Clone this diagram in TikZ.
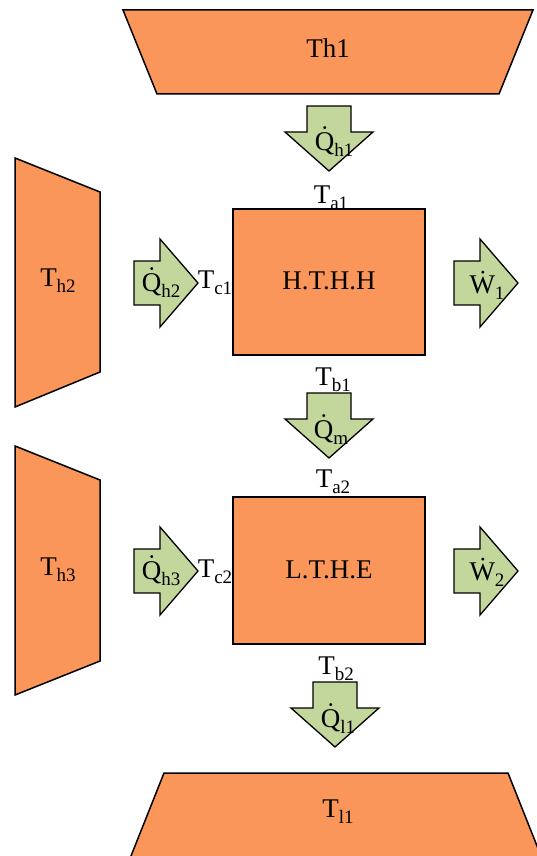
\documentclass[tikz,border=0pt]{standalone}
\usepackage{fontspec}
\setmainfont{Liberation Serif}
\definecolor{boxorange}{RGB}{250,150,90}
\definecolor{arrgreen}{RGB}{195,214,155}
\newcommand\sbs[1]{\raisebox{-6pt}{\fontsize{19}{19}\selectfont #1}}
\newcommand\qdot{\.{Q}}
\newcommand\wdot{\.{W}}
\tikzset{
  orangebox/.style={draw=black, fill=boxorange, line width=1.5pt, line join=miter},
  greenarrow/.style={draw=black, fill=arrgreen, line width=1.3pt, line join=miter},
  lbl/.style={inner sep=0pt, anchor=base, font=\fontsize{27}{31}\selectfont},
  pics/downarrow/.style={code={
    \path[greenarrow] (-22,0) -- (22,0) -- (22,26) -- (44,26) -- (0,65) -- (-44,26) -- (-22,26) -- cycle;}},
  pics/rightarrow/.style={code={
    \path[greenarrow] (0,-22) -- (26,-22) -- (26,-44) -- (64,0) -- (26,44) -- (26,22) -- (0,22) -- cycle;}}
}
\begin{document}
\begin{tikzpicture}[x=1pt, y=-1pt]
\useasboundingbox (0,0) rectangle (537,856);
% reservoirs
\path[orangebox] (123,10) -- (533,10) -- (499,94) -- (157,94) -- cycle;
\node[lbl] (th1) at (328,58) {Th1};
\path[orangebox] (15,158) -- (100,192) -- (100,372) -- (15,407) -- cycle;
\node[lbl] (th2) at (58,286) {T\sbs{h2}};
\path[orangebox] (15,446) -- (100,480) -- (100,661) -- (15,695) -- cycle;
\node[lbl] (th3) at (58,575) {T\sbs{h3}};
\begin{scope}
\clip (0,0) rectangle (537,856);
\path[orangebox] (164,773) -- (508,773) -- (545,866) -- (127,866) -- cycle;
\end{scope}
\node[lbl] (tl1) at (338,817) {T\sbs{l1}};
% engines
\node[orangebox, minimum width=192pt, minimum height=146pt, inner sep=0pt] (hthh) at (329,282) {};
\node[lbl] (hthhl) at (329,289) {H.T.H.H};
\node[orangebox, minimum width=192pt, minimum height=147pt, inner sep=0pt] (lthe) at (329,570.5) {};
\node[lbl] (lthel) at (329,578) {L.T.H.E};
% heat/work arrows
\pic at (329,106) {downarrow};
\node[lbl] (qh1) at (334,150) {\qdot\sbs{h1}};
\pic at (329,393) {downarrow};
\node[lbl] (qm) at (331,438) {\qdot\sbs{m}};
\pic at (335,682) {downarrow};
\node[lbl] (ql1) at (338,727) {\qdot\sbs{l1}};
\pic at (134,283) {rightarrow};
\node[lbl] (qh2) at (161,291) {\qdot\sbs{h2}};
\pic at (134,571) {rightarrow};
\node[lbl] (qh3) at (161,579) {\qdot\sbs{h3}};
\pic at (454,283) {rightarrow};
\node[lbl] (w1) at (487,293) {\wdot\sbs{1}};
\pic at (454,571) {rightarrow};
\node[lbl] (w2) at (487,580) {\wdot\sbs{2}};
% temperature labels
\node[lbl] (ta1) at (331,203) {T\sbs{a1}};
\node[lbl] (tb1) at (333,385) {T\sbs{b1}};
\node[lbl] (ta2) at (333,487) {T\sbs{a2}};
\node[lbl] (tb2) at (336,674) {T\sbs{b2}};
\node[lbl] (tc1) at (215,288) {T\sbs{c1}};
\node[lbl] (tc2) at (215,577) {T\sbs{c2}};
\end{tikzpicture}
\end{document}
